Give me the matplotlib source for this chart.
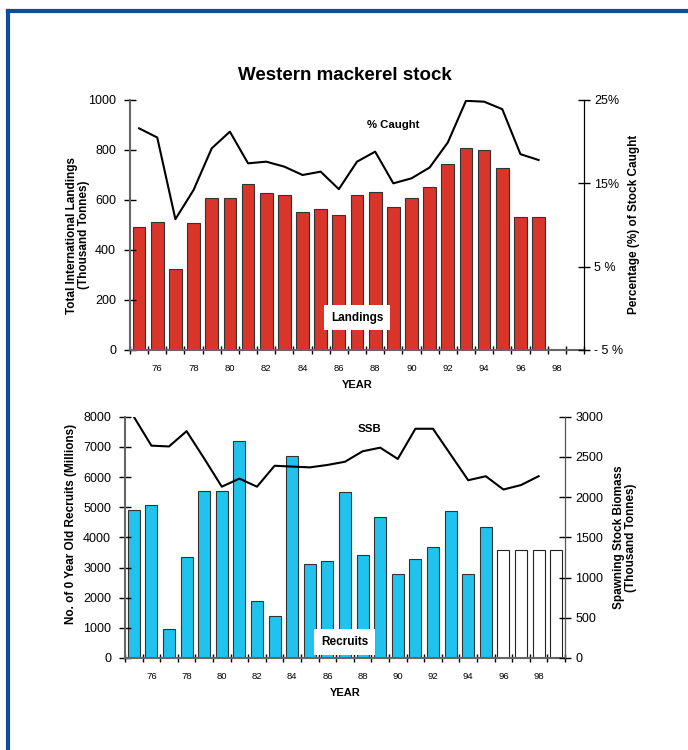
import numpy as np
import matplotlib
matplotlib.use("Agg")
from matplotlib import pyplot as plt
from matplotlib.lines import Line2D

plt.rcParams["font.family"] = ["Liberation Sans", "DejaVu Sans"]

# years on the x axis (75 .. 99)
years = list(range(75, 100))
year_labels = [str(y) if y % 2 == 0 else "" for y in years]

# top chart: landings (thousand tonnes) and % caught, 1975-1997
landings = [493, 511, 325, 507, 608, 608, 663, 627, 619, 552, 563, 539,
            619, 632, 572, 608, 651, 743, 808, 799, 729, 531, 531]
pct_caught = [21.6, 20.5, 10.7, 14.2, 19.2, 21.2, 17.4, 17.6, 17.0, 16.0,
              16.4, 14.3, 17.6, 18.8, 15.0, 15.6, 16.9, 19.9, 24.9, 24.8,
              23.9, 18.5, 17.8]

# bottom chart: recruits (millions), 1975-1995 estimated, 1996-1999 assumed
recruits = [4920, 5080, 960, 3340, 5530, 5530, 7180, 1880, 1390, 6690,
            3100, 3200, 5500, 3410, 4680, 2800, 3270, 3690, 4880, 2800, 4340]
recruits_assumed = [3575, 3575, 3575, 3575]
ssb = [3000, 2640, 2630, 2820, 2480, 2130, 2230, 2130, 2390, 2380, 2370,
       2400, 2440, 2570, 2615, 2475, 2850, 2850, 2530, 2210, 2260, 2095,
       2150, 2260]

red = "#d9352a"
blue = "#1fc3ee"
frame_blue = "#0b4f9a"

fig = plt.figure(figsize=(6.88, 7.5), dpi=100)

# blue frame lines (left and top)
fig.add_artist(Line2D([8 / 688, 8 / 688], [0, 1 - 11 / 750], color=frame_blue, lw=3,
                      transform=fig.transFigure))
fig.add_artist(Line2D([8 / 688, 1], [1 - 11 / 750, 1 - 11 / 750], color=frame_blue, lw=3,
                      transform=fig.transFigure))


def style_x(ax):
    ax.set_xlim(-0.5, len(years) - 0.5)
    ax.set_xticks(range(len(years)))
    ax.set_xticklabels(year_labels, fontsize=6.8)
    ax.tick_params(axis="x", which="major", length=0, pad=10)
    ax.set_xticks(np.arange(-0.5, len(years), 1.0), minor=True)
    ax.tick_params(axis="x", which="minor", direction="inout", length=6, width=1)
    ax.set_xlabel("YEAR", fontsize=8, fontweight="bold", labelpad=5)


def style_spines(ax):
    ax.spines["top"].set_visible(False)
    ax.spines["left"].set_color("#666666")
    ax.spines["left"].set_linewidth(1.5)
    ax.spines["bottom"].set_color("#666666")
    ax.spines["bottom"].set_linewidth(1.5)
    ax.tick_params(axis="y", direction="inout", length=8, width=1, labelsize=9, pad=6)


# ---------------- top chart ----------------
ax1 = fig.add_axes([130 / 688, 1 - 350 / 750, 454 / 688, 250 / 750])
ax1.bar(range(len(landings)), landings, width=0.7, color=red,
        edgecolor="#333333", linewidth=0.8)
ax1.set_ylim(0, 1000)
ax1.set_yticks(range(0, 1001, 200))
style_x(ax1)
style_spines(ax1)
ax1.set_ylabel("Total International Landings\n(Thousand Tonnes)", fontsize=8.5,
               fontweight="bold", linespacing=1.05)
ax1.yaxis.set_label_coords(-0.088, 0.46)
fig.text(345 / 688, 1 - 76 / 750, "Western mackerel stock", ha="center", va="center",
         fontsize=13.5, fontweight="bold")

ax2 = ax1.twinx()
ax2.plot(range(len(pct_caught)), pct_caught, color="black", lw=1.5)
ax2.set_ylim(-5, 25)
ax2.set_yticks([-5, 5, 15, 25])
ax2.set_yticklabels(["- 5 %", "5 %", "15%", "25%"])
ax2.spines["top"].set_visible(False)
ax2.spines["left"].set_visible(False)
ax2.spines["bottom"].set_visible(False)
ax2.tick_params(axis="y", direction="inout", length=8, width=1, labelsize=9)
ax2.set_ylabel("Percentage (%) of Stock Caught", fontsize=8.5, fontweight="bold")
ax2.yaxis.set_label_coords(1.097, 0.504)
ax2.text(0.58, 0.9, "% Caught", transform=ax2.transAxes, ha="center", va="center",
         fontsize=8.2, fontweight="bold")
ax2.text(0.5, 0.13, "Landings", transform=ax2.transAxes, ha="center", va="center",
         fontsize=8.5, fontweight="bold",
         bbox=dict(facecolor="white", edgecolor="none", pad=5))

# ---------------- bottom chart ----------------
ax3 = fig.add_axes([125 / 688, 1 - 658 / 750, 440 / 688, 241.3 / 750])
n = len(recruits)
ax3.bar(range(n), recruits, width=0.68, color=blue, edgecolor="#333333",
        linewidth=0.8)
ax3.bar(range(n, n + len(recruits_assumed)), recruits_assumed, width=0.68,
        color="white", edgecolor="#222222", linewidth=0.8)
ax3.set_ylim(0, 8000)
ax3.set_yticks(range(0, 8001, 1000))
style_x(ax3)
style_spines(ax3)
ax3.set_ylabel("No. of 0 Year Old Recruits (Millions)", fontsize=8.5,
               fontweight="bold")
ax3.yaxis.set_label_coords(-0.109, 0.555)

ax4 = ax3.twinx()
ax4.plot(range(len(ssb)), ssb, color="black", lw=1.5)
ax4.set_ylim(0, 3000)
ax4.set_yticks(range(0, 3001, 500))
ax4.spines["top"].set_visible(False)
ax4.spines["left"].set_visible(False)
ax4.spines["bottom"].set_visible(False)
ax4.spines["right"].set_color("#555555")
ax4.tick_params(axis="y", direction="inout", length=8, width=1, labelsize=9)
ax4.set_ylabel("Spawning Stock Biomass\n(Thousand Tonnes)", fontsize=8.5,
               fontweight="bold", linespacing=1.05)
ax4.yaxis.set_label_coords(1.109, 0.5)
ax4.text(0.555, 0.949, "SSB", transform=ax4.transAxes, ha="center", va="center",
         fontsize=8.2, fontweight="bold")
ax4.text(0.499, 0.066, "Recruits", transform=ax4.transAxes, ha="center", va="center",
         fontsize=8.5, fontweight="bold",
         bbox=dict(facecolor="white", edgecolor="none", pad=5))

fig.savefig("out.png", dpi=100)
